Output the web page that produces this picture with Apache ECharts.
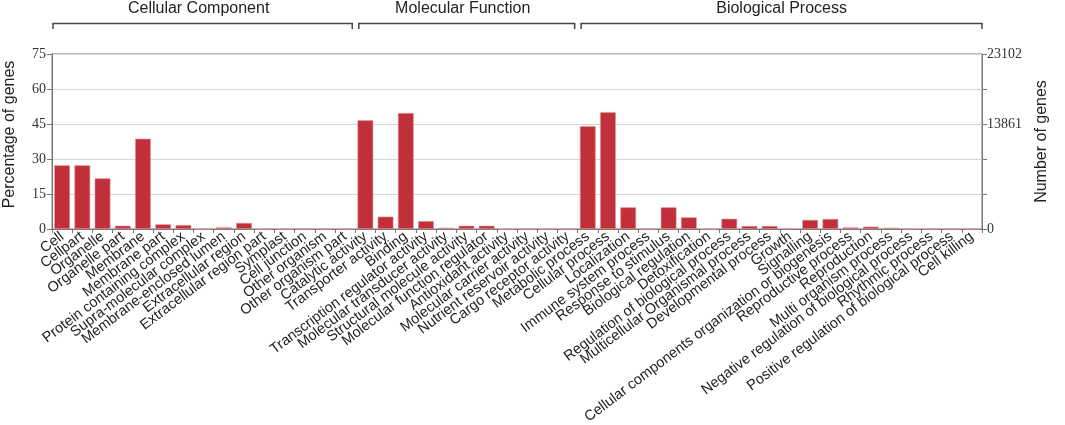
<!DOCTYPE html>
<html>
<head>
<meta charset="utf-8">
<script src="https://cdn.jsdelivr.net/npm/echarts@6/dist/echarts.min.js"></script>
<style>html,body{margin:0;padding:0;background:#fff}#c{width:1065px;height:425px}</style>
</head>
<body>
<div id="c"></div>
<script>
const categories = [
  'Cell','Cellpart','Organelle','Organelle part','Membrane','Membrane part','Protein containing complex','Supra-molecular complex','Membrane-enclosed lumen','Extracellular region','Extracellular region part','Symplast','Cell junction','Other organism','Other organism part',
  'Catalytic activity','Transporter activity','Binding','Transcription regulator activity','Molecular transducer activity','Structural molecule activity','Molecular function regulator','Antioxidant activity','Molecular carrier activity','Nutrient reservoir activity','Cargo receptor activity',
  'Metabolic process','Cellular process','Localization','Immune system process','Response to stimulus','Biological regulation','Detoxification','Regulation of biological process','Multicellular Organismal process','Developmental process','Growth','Signalling','Cellular components organization or biogenesis','Reproductive process','Reproduction','Multi organism process','Negative regulation of biological process','Rhythmic process','Positive regulation of biological process','Cell killing'
];
const percentCC = [27.3, 27.3, 21.7, 1.4, 38.7, 2.0, 1.7, 0, 0.7, 2.6, 0, 0, 0, 0.1, 0.1];
const percentMF = [46.6, 5.3, 49.7, 3.4, 0.5, 1.4, 1.4, 0, 0, 0, 0];
const percentBP = [44.1, 50.1, 9.3, 0, 9.3, 5.0, 0, 4.4, 1.3, 1.3, 0.2, 3.9, 4.3, 0.7, 1.0, 0.5, 0.1, 0.1, 0.1, 0];
const groupNames = ['Cellular Component', 'Molecular Function', 'Biological Process'];
const groupCounts = [15, 11, 20];
const leftTicks = [0, 15, 30, 45, 60, 75];
const totalGenes = 23102;
const rightTickLabels = ['0', '', '', '13861', '', '23102'];

const values = percentCC.concat(percentMF, percentBP);

const chart = echarts.init(document.getElementById('c'), null, {renderer: 'canvas'});
const serif = '"Liberation Serif", "DejaVu Serif", serif';
const sans = '"Liberation Sans", Arial, sans-serif';

chart.setOption({
  animation: false,
  grid: {left: 52, right: 83, top: 54, bottom: 196, show: true, borderColor: '#777', borderWidth: 1,
    containLabel: false, outerBoundsMode: 'none'},
  xAxis: {
    type: 'category',
    data: categories,
    boundaryGap: true,
    axisLine: {lineStyle: {color: '#777'}},
    axisTick: {show: true, length: 4, lineStyle: {color: '#777'}},
    axisLabel: {rotate: 37, interval: 0, margin: 6, fontFamily: sans, fontSize: 14.5, color: '#222'}
  },
  yAxis: [
    {
      type: 'value', min: leftTicks[0], max: leftTicks[leftTicks.length - 1], interval: leftTicks[1] - leftTicks[0],
      name: 'Percentage of genes', nameLocation: 'middle', nameGap: 34, nameRotate: 90,
      nameTextStyle: {fontFamily: sans, fontSize: 16, color: '#222', padding: [0, 0, 0, 14]},
      axisLine: {show: true, lineStyle: {color: '#777'}},
      axisTick: {show: true, length: 5, lineStyle: {color: '#777'}},
      axisLabel: {margin: 6, fontFamily: serif, fontSize: 14, color: '#333'},
      splitLine: {show: true, lineStyle: {color: '#d6d6d6'}}
    },
    {
      type: 'value', min: 0, max: totalGenes, interval: totalGenes / 5, position: 'right',
      name: 'Number of genes', nameLocation: 'middle', nameGap: 52, nameRotate: 90,
      nameTextStyle: {fontFamily: sans, fontSize: 16, color: '#222'},
      axisLine: {show: true, lineStyle: {color: '#777'}},
      axisTick: {show: true, length: 5, lineStyle: {color: '#777'}},
      axisLabel: {margin: 5, fontFamily: serif, fontSize: 14, color: '#333',
        formatter: function (v, i) { return rightTickLabels[i] || ''; }},
      splitLine: {show: false}
    }
  ],
  series: [{
    type: 'bar',
    data: values,
    barCategoryGap: '22%',
    itemStyle: {color: '#c1303a', borderColor: '#e29a9e', borderWidth: 0.6}
  }]
});

// group brackets above the plot
const c0 = chart.convertToPixel({xAxisIndex: 0}, 0);
const c1 = chart.convertToPixel({xAxisIndex: 0}, 1);
const bw = c1 - c0;
const leftEdge = c0 - bw / 2;
const graphics = [];
let start = 0;
const yLine = 23.5, yTick = 29;
groupCounts.forEach(function (n, gi) {
  const xs = leftEdge + start * bw + (gi === 0 ? 1 : 3.5);
  const xe = leftEdge + (start + n) * bw - (gi === groupCounts.length - 1 ? 0 : 3);
  graphics.push({type: 'polyline', shape: {points: [[xs, yTick], [xs, yLine], [xe, yLine], [xe, yTick]]},
    style: {stroke: '#444', lineWidth: 1.5, fill: null}});
  graphics.push({type: 'text', x: (xs + xe) / 2 - (gi < 2 ? 4 : 0), y: 9,
    style: {text: groupNames[gi], font: '16px ' + sans, fill: '#222', align: 'center', verticalAlign: 'middle'}});
  start += n;
});
chart.setOption({graphic: graphics});
</script>
</body>
</html>
